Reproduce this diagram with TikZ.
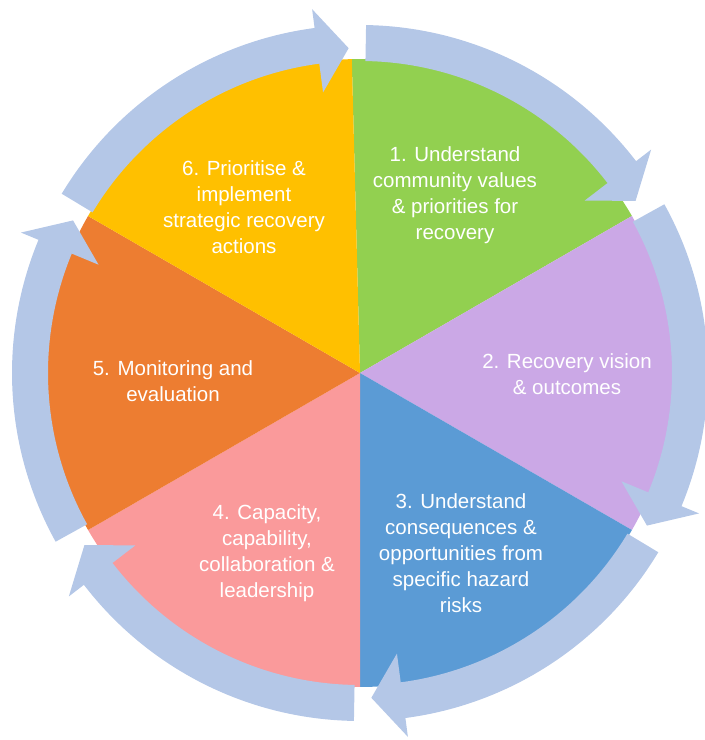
\documentclass[tikz,border=0pt]{standalone}
\usepackage{fontspec}
\setmainfont{Liberation Sans}
\definecolor{cgreen}{HTML}{92D050}
\definecolor{cpurple}{HTML}{CBA8E6}
\definecolor{cblue}{HTML}{5B9BD5}
\definecolor{cpink}{HTML}{FA9A9B}
\definecolor{corange}{HTML}{ED7D31}
\definecolor{cyellow}{HTML}{FFC000}
\definecolor{cring}{HTML}{B4C7E7}
\begin{document}
\begin{tikzpicture}[x=1pt,y=1pt,
  lbl/.style={text=white,align=center,font=\fontsize{20.5}{26}\selectfont,inner sep=0pt},
  ringarrow/.style={fill=cring}]
\useasboundingbox (0,0) rectangle (705,740);
\coordinate (C) at (360,367);
\begin{scope}[shift={(C)}]
  \fill[cgreen]  (0,0) -- (91.5:314pt) arc[start angle=91.5,end angle=30,radius=314pt] -- cycle;
  \fill[cpurple] (0,0) -- (30:314pt) arc[start angle=30,end angle=-30,radius=314pt] -- cycle;
  \fill[cblue]   (0,0) -- (-30:314pt) arc[start angle=-30,end angle=-90,radius=314pt] -- cycle;
  \fill[cpink]   (0,0) -- (-90:314pt) arc[start angle=-90,end angle=-150,radius=314pt] -- cycle;
  \fill[corange] (0,0) -- (-150:314pt) arc[start angle=-150,end angle=-210,radius=314pt] -- cycle;
  \fill[cyellow] (0,0) -- (150:314pt) arc[start angle=150,end angle=91.5,radius=314pt] -- cycle;
  \foreach \B in {90,30,-30,-90,-150,-210} {
    \pgfmathsetmacro\s{\B-1}
    \pgfmathsetmacro\h{\B-60+7.5}
    \pgfmathsetmacro\t{\B-60+2}
    \fill[ringarrow] (\s:348pt) arc[start angle=\s,end angle=\h,radius=348pt]
      -- (\h:367pt) -- (\t:325pt) -- (\h:283pt) -- (\h:312pt)
      arc[start angle=\h,end angle=\s,radius=312pt] -- cycle;
  }
\end{scope}
\node[lbl] (t1) at (455,545) {1. Understand\\community values\\\& priorities for\\recovery};
\node[lbl] (t2) at (567,366) {2. Recovery vision\\\& outcomes};
\node[lbl] (t3) at (461,187) {3. Understand\\consequences \&\\opportunities from\\specific hazard\\risks};
\node[lbl] (t4) at (267,187) {4. Capacity,\\capability,\\collaboration \&\\leadership};
\node[lbl] (t5) at (173,358.5) {5. Monitoring and\\evaluation};
\node[lbl] (t6) at (244,533) {6. Prioritise \&\\implement\\strategic recovery\\actions};
\end{tikzpicture}
\end{document}
